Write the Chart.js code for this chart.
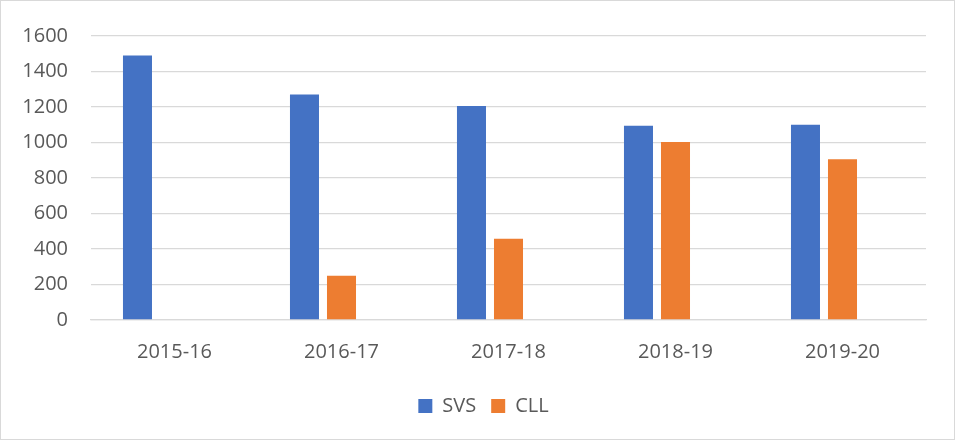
<!DOCTYPE html>
<html>
<head>
<meta charset="utf-8">
<script src="https://cdn.jsdelivr.net/npm/chart.js@4/dist/chart.umd.min.js"></script>
<style>
  html, body { margin: 0; padding: 0; background: #fff; }
  #wrap { position: relative; width: 955px; height: 440px; box-sizing: border-box; border: 1px solid #d9d9d9; }
</style>
</head>
<body>
<div id="wrap"><canvas id="chart"></canvas></div>
<script>
var YEARS = ['2015-16', '2016-17', '2017-18', '2018-19', '2019-20'];
var SVS = [1490, 1270, 1205, 1094, 1100];
var CLL = [null, 250, 458, 1003, 905];
var EMPTY = [null, null, null, null, null];  // third (empty) series the original leaves room for
var Y_TICKS = [0, 200, 400, 600, 800, 1000, 1200, 1400, 1600];

var FONT = "'Open Sans', 'Liberation Sans', sans-serif";
var TEXT = '#595959';
var GRID = '#d9d9d9';

// the original legend sits a bit right of the canvas centre
var legendShift = {
  id: 'legendShift',
  afterLayout: function(chart) {
    if (chart.legend) chart.legend.left += 40;
  }
};

var ctx = document.getElementById('chart');
var chart = new Chart(ctx, {
  type: 'bar',
  data: {
    labels: YEARS,
    datasets: [
      { label: 'SVS', data: SVS, backgroundColor: '#4472c4' },
      { label: 'CLL', data: CLL, backgroundColor: '#ed7d31' },
      { label: '', data: EMPTY, backgroundColor: 'rgba(0,0,0,0)' }
    ]
  },
  plugins: [legendShift],
  options: {
    responsive: true,
    maintainAspectRatio: false,
    animation: false,
    datasets: {
      bar: { categoryPercentage: 0.665, barPercentage: 0.784 }
    },
    layout: { padding: { top: 33, left: 0, right: 28, bottom: 13 } },
    plugins: {
      tooltip: { enabled: false },
      legend: {
        position: 'bottom',
        labels: {
          filter: function(item) { return item.text !== ''; },
          boxWidth: 14,
          boxHeight: 14,
          padding: 15,
          color: TEXT,
          font: { family: FONT, size: 20 }
        }
      }
    },
    scales: {
      x: {
        grid: { display: false, drawTicks: false },
        border: { color: GRID, width: 1.3 },
        ticks: { color: TEXT, padding: 20, font: { family: FONT, size: 20 } },
        afterFit: function(scale) { scale.height = 61; }
      },
      y: {
        min: 0,
        max: 1600,
        afterBuildTicks: function(scale) {
          scale.ticks = Y_TICKS.map(function(v) { return { value: v }; });
        },
        grid: { color: GRID, lineWidth: 1.3, drawTicks: false },
        border: { display: false },
        ticks: {
          color: TEXT,
          padding: 23,
          font: { family: FONT, size: 20 },
          callback: function(v) { return String(v); }
        },
        afterFit: function(scale) { scale.width = 90; }
      }
    }
  }
});
</script>
</body>
</html>
